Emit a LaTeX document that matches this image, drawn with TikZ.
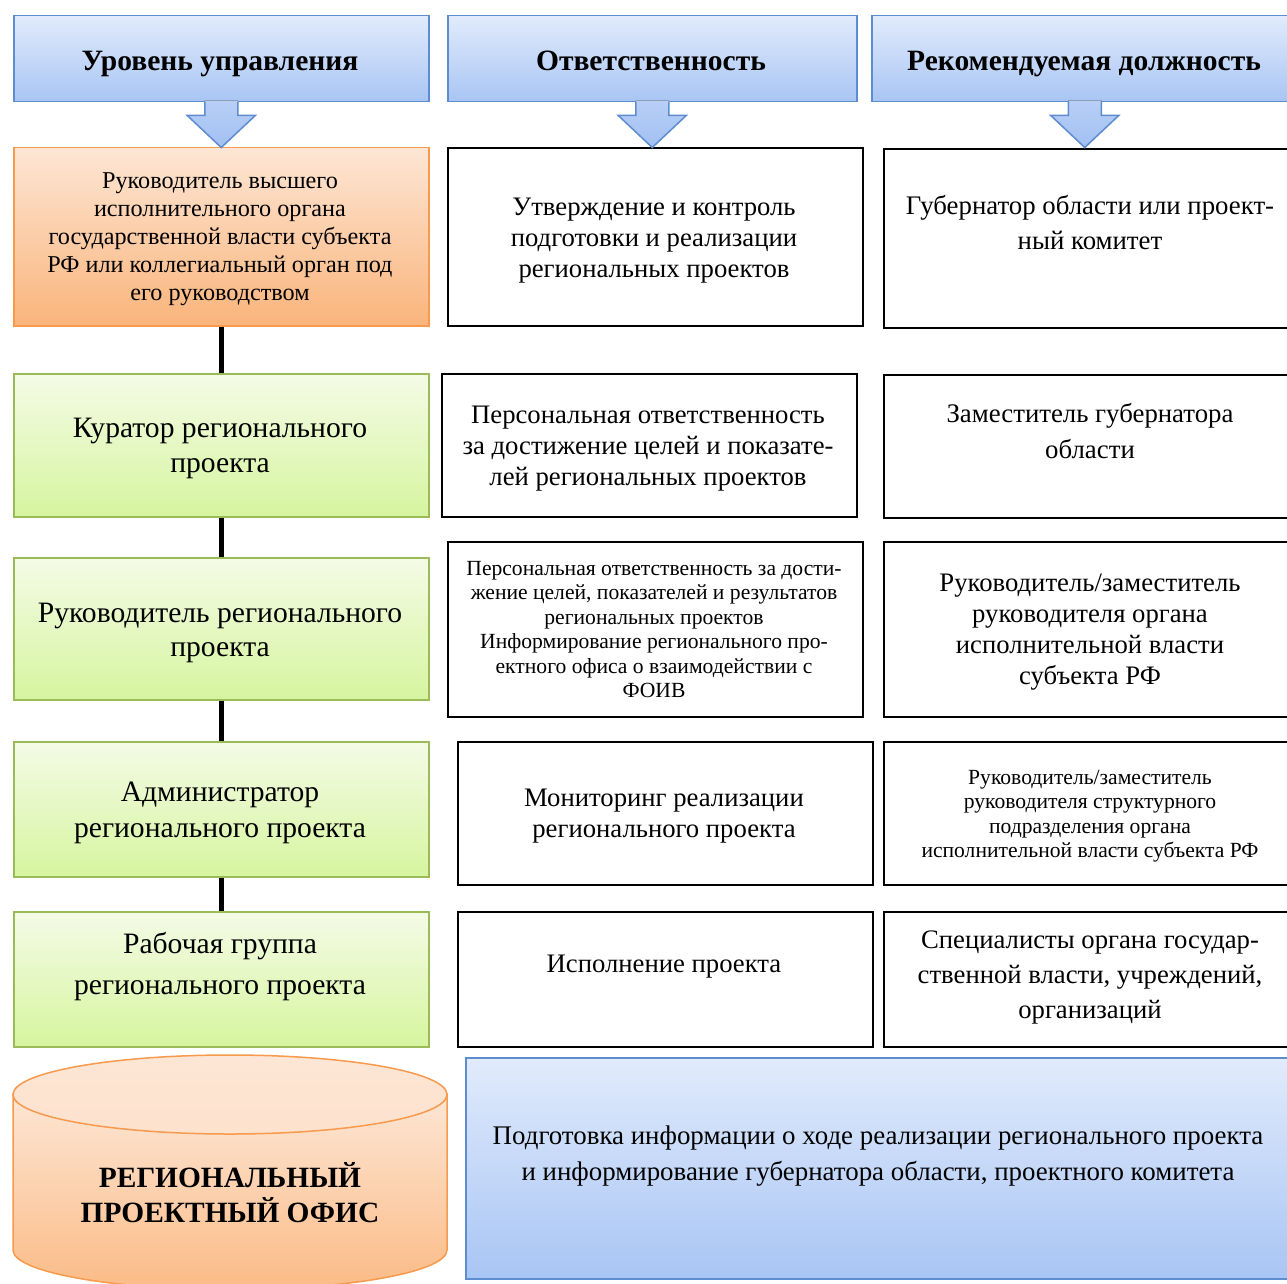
\documentclass[tikz,border=0pt]{standalone}
\usepackage{fontspec}
\setmainfont{Liberation Serif}
\usetikzlibrary{calc}
\definecolor{hdrtop}{HTML}{E1EBFC}
\definecolor{hdrbot}{HTML}{A8C5F4}
\definecolor{hdrline}{HTML}{5D8CCF}
\definecolor{arrtop}{HTML}{B8CFF6}
\definecolor{arrbot}{HTML}{A2C0F3}
\definecolor{ortop}{HTML}{FDE6D5}
\definecolor{orbot}{HTML}{FAB47B}
\definecolor{orline}{HTML}{F79A4E}
\definecolor{grtop}{HTML}{F4FBE6}
\definecolor{grbot}{HTML}{D6F59F}
\definecolor{grline}{HTML}{9BBB59}
\definecolor{cyltop}{HTML}{FDE6D5}
\definecolor{cylbot}{HTML}{FBBB86}
\definecolor{cyllid}{HTML}{FDE2CD}
\tikzset{
  box/.style={rectangle, inner sep=0pt, anchor=north west},
  hdrbox/.style={box, draw=hdrline, line width=1.5pt, top color=hdrtop, bottom color=hdrbot},
  orbox/.style={box, draw=orline, line width=1.5pt, top color=ortop, bottom color=orbot},
  grbox/.style={box, draw=grline, line width=1.5pt, top color=grtop, bottom color=grbot},
  wbox/.style={box, draw=black, line width=2pt, fill=white},
  txt/.style={inner sep=0pt, align=center, font=\fontsize{26.7}{31}\selectfont},
  hdrtxt/.style={inner sep=0pt, anchor=base, font=\bfseries\fontsize{29.5}{35}\selectfont},
  conn/.style={draw=black, line width=5pt},
  arrfill/.style={top color=arrtop, bottom color=arrbot},
  arrline/.style={draw=hdrline, line width=1.5pt, line join=miter},
}
\newcommand\hdrarrow[1]{%
  \fill[arrfill] ($(#1.south)+(-16.5,-2)$) -- ($(#1.south)+(-16.5,13)$) -- ($(#1.south)+(-34,13)$) -- ($(#1.south)+(0,45)$) -- ($(#1.south)+(34,13)$) -- ($(#1.south)+(16.5,13)$) -- ($(#1.south)+(16.5,-2)$) -- cycle;
  \draw[arrline] ($(#1.south)+(-16.5,-0.8)$) -- ($(#1.south)+(-16.5,13)$) -- ($(#1.south)+(-34,13)$) -- ($(#1.south)+(0,45)$) -- ($(#1.south)+(34,13)$) -- ($(#1.south)+(16.5,13)$) -- ($(#1.south)+(16.5,-0.8)$);
}
\begin{document}
\begin{tikzpicture}[x=1pt,y=-1pt]
\useasboundingbox (0,0) rectangle (1287,1284);
\fill[white] (0,0) rectangle (1287,1284);

% headers
\node[hdrbox, minimum width=415pt, minimum height=86pt] (h1) at (13,15) {};
\node[hdrbox, minimum width=409pt, minimum height=86pt] (h2) at (447,15) {};
\node[hdrbox, minimum width=426pt, minimum height=86pt] (h3) at (871,15) {};
\node[hdrtxt] (h1t) at (220,70.5) {Уровень управления};
\node[hdrtxt] (h2t) at (651,70.5) {Ответственность};
\node[hdrtxt] (h3t) at (1084,70.5) {Рекомендуемая должность};

% row 1
\node[orbox, minimum width=415pt, minimum height=178pt] (o1) at (13,147) {};
\node[wbox, minimum width=415pt, minimum height=178pt] (m1) at (447,147) {};
\node[wbox, minimum width=420pt, minimum height=179pt] (r1) at (883,148) {};
\node[txt, font=\fontsize{24.2}{28}\selectfont] (o1t) at (220,239) {Руководитель высшего\\исполнительного органа\\государственной власти субъекта\\РФ или коллегиальный орган под\\его руководством};
\node[txt] (m1t) at (654,240.5) {Утверждение и контроль\\подготовки и реализации\\региональных проектов};
\node[txt, font=\fontsize{26.8}{35}\selectfont] (r1t) at (1090,223) {Губернатор области или проект-\\ный комитет};

% row 2
\node[grbox, minimum width=415pt, minimum height=143pt] (g1) at (13,373) {};
\node[wbox, minimum width=415pt, minimum height=143pt] (m2) at (441,373) {};
\node[wbox, minimum width=420pt, minimum height=143pt] (r2) at (883,374) {};
\node[txt, font=\fontsize{29.6}{35}\selectfont] (g1t) at (220,448) {Куратор регионального\\проекта};
\node[txt] (m2t) at (648,449) {Персональная ответственность\\за достижение целей и показате-\\лей региональных проектов};
\node[txt, font=\fontsize{26.8}{36}\selectfont] (r2t) at (1090,431) {Заместитель губернатора\\области};

% row 3
\node[grbox, minimum width=415pt, minimum height=142pt] (g2) at (13,557) {};
\node[wbox, minimum width=415pt, minimum height=175pt] (m3) at (447,541) {};
\node[wbox, minimum width=420pt, minimum height=175pt] (r3) at (883,541) {};
\node[txt, font=\fontsize{29.6}{34}\selectfont] (g2t) at (220,633) {Руководитель регионального\\проекта};
\node[txt, font=\fontsize{21.6}{24.5}\selectfont] (m3t) at (654,629.5) {Персональная ответственность за дости-\\жение целей, показателей и результатов\\региональных проектов\\Информирование регионального про-\\ектного офиса о взаимодействии с\\ФОИВ};
\node[txt] (r3t) at (1090,632) {Руководитель/заместитель\\руководителя органа\\исполнительной власти\\субъекта РФ};

% row 4
\node[grbox, minimum width=415pt, minimum height=135pt] (g3) at (13,741) {};
\node[wbox, minimum width=415pt, minimum height=143pt] (m4) at (457,741) {};
\node[wbox, minimum width=420pt, minimum height=143pt] (r4) at (883,741) {};
\node[txt, font=\fontsize{29.6}{36}\selectfont] (g3t) at (220,813) {Администратор\\регионального проекта};
\node[txt] (m4t) at (664,816) {Мониторинг реализации\\регионального проекта};
\node[txt, font=\fontsize{21.6}{24.5}\selectfont] (r4t) at (1090,816) {Руководитель/заместитель\\руководителя структурного\\подразделения органа\\исполнительной власти субъекта РФ};

% row 5
\node[grbox, minimum width=415pt, minimum height=135pt] (g4) at (13,911) {};
\node[wbox, minimum width=415pt, minimum height=135pt] (m5) at (457,911) {};
\node[wbox, minimum width=420pt, minimum height=135pt] (r5) at (883,911) {};
\node[txt, font=\fontsize{29.6}{41}\selectfont] (g4t) at (220,967) {Рабочая группа\\регионального проекта};
\node[txt] (m5t) at (664,967) {Исполнение проекта};
\node[txt, font=\fontsize{26.7}{35}\selectfont] (r5t) at (1090,977) {Специалисты органа государ-\\ственной власти, учреждений,\\организаций};

% bottom blue box
\node[hdrbox, minimum width=840pt, minimum height=221pt] (bb) at (465,1057) {};
\node[txt, font=\fontsize{26.9}{36}\selectfont] (bbt) at (878,1156) {Подготовка информации о ходе реализации регионального проекта\\и информирование губернатора области, проектного комитета};

% cylinder
\path[top color=cyltop, bottom color=cylbot, draw=orline, line width=1.5pt]
  (13,1094) -- (13,1250) .. controls (13,1271.8) and (110.2,1289.5) .. (230,1289.5)
  .. controls (349.8,1289.5) and (447,1271.8) .. (447,1250) -- (447,1094) -- cycle;
\path[top color=cyltop, bottom color=cyllid, draw=orline, line width=1.5pt]
  (230,1094.5) ellipse [x radius=217, y radius=39.5];
\node[txt, font=\bfseries\fontsize{29.4}{35}\selectfont] (cylt) at (230,1193) {РЕГИОНАЛЬНЫЙ\\ПРОЕКТНЫЙ ОФИС};

% header arrows
\hdrarrow{h1}
\hdrarrow{h2}
\hdrarrow{h3}

% connectors
\draw[conn] (o1.south) -- (g1.north);
\draw[conn] (g1.south) -- (g2.north);
\draw[conn] (g2.south) -- (g3.north);
\draw[conn] (g3.south) -- (g4.north);
\end{tikzpicture}
\end{document}
